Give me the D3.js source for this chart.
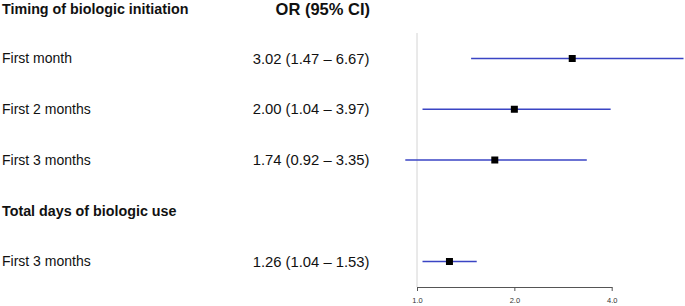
<!DOCTYPE html>
<html>
<head>
<meta charset="utf-8">
<script src="https://cdn.jsdelivr.net/npm/d3@7"></script>
<style>
  body { margin: 0; background: #fff; }
  svg { display: block; font-family: "Liberation Sans", Arial, sans-serif; }
</style>
</head>
<body>
<div id="forest"></div>
<script>
// rows of the table, top to bottom (headers have no estimate)
var rowLabels = ["First month", "First 2 months", "First 3 months",
                 "Total days of biologic use", "First 3 months"];
var isHeader  = [false, false, false, true, false];
var estimates = [3.02, 2.00, 1.74, null, 1.26];
var lower     = [1.47, 1.04, 0.92, null, 1.04];
var upper     = [6.67, 3.97, 3.35, null, 1.53];
var ciLabels  = ["3.02 (1.47 \u2013 6.67)", "2.00 (1.04 \u2013 3.97)", "1.74 (0.92 \u2013 3.35)",
                 "", "1.26 (1.04 \u2013 1.53)"];
var columnTitles = ["Timing of biologic initiation", "OR (95% CI)"];
var tickValues = [1, 2, 4];

var width = 685, height = 306;

var svg = d3.select("#forest")
  .append("svg")
    .attr("width", width)
    .attr("height", height);

// row positions
var y = d3.scaleLinear()
  .domain([0, rowLabels.length - 1])
  .range([58.5, 261.5]);
var titleY = 9;

// odds ratio axis, log scale
var x = d3.scaleLog()
  .base(2)
  .domain([1, 4])
  .range([417, 611.7]);

var axisY = 287;

// reference line at OR = 1
svg.append("line")
  .attr("x1", x(1)).attr("x2", x(1))
  .attr("y1", 33).attr("y2", axisY)
  .attr("stroke", "#d4d4d4")
  .attr("stroke-width", 1);

// axis
var axis = svg.append("g")
  .attr("transform", "translate(0," + axisY + ")")
  .call(d3.axisBottom(x).tickValues(tickValues).tickFormat(d3.format(".1f")).tickSize(4).tickSizeOuter(0));
axis.select(".domain").attr("stroke", "#555");
axis.selectAll(".tick line").attr("stroke", "#555");
axis.selectAll(".tick text")
  .attr("fill", "#333")
  .attr("dy", "1.15em")
  .style("font-size", "7.5px")
  .style("font-family", "Liberation Sans, Arial, sans-serif");

// column titles
svg.append("text")
  .attr("x", 2).attr("y", titleY).attr("dy", "0.35em")
  .style("font-size", "14.3px").style("font-weight", "bold")
  .attr("fill", "#111")
  .text(columnTitles[0]);
svg.append("text")
  .attr("x", 370).attr("y", titleY).attr("dy", "0.35em")
  .attr("text-anchor", "end")
  .style("font-size", "16.5px").style("font-weight", "bold")
  .attr("fill", "#111")
  .text(columnTitles[1]);

// left labels
svg.append("g")
  .selectAll("text")
  .data(rowLabels)
  .enter().append("text")
    .attr("x", 2)
    .attr("y", function(d, i) { return y(i); })
    .attr("dy", "0.35em")
    .style("font-size", function(d, i) { return isHeader[i] ? "14.3px" : "14px"; })
    .style("font-weight", function(d, i) { return isHeader[i] ? "bold" : "normal"; })
    .attr("fill", "#111")
    .text(function(d) { return d; });

// OR (95% CI) column, right aligned
svg.append("g")
  .selectAll("text")
  .data(ciLabels)
  .enter().append("text")
    .attr("x", 369.5)
    .attr("y", function(d, i) { return y(i); })
    .attr("dy", "0.35em")
    .attr("text-anchor", "end")
    .style("font-size", "14.8px")
    .attr("fill", "#111")
    .text(function(d) { return d; });

var idx = d3.range(rowLabels.length).filter(function(i) { return estimates[i] !== null; });

// confidence intervals
svg.append("g")
  .selectAll("line")
  .data(idx)
  .enter().append("line")
    .attr("x1", function(i) { return x(lower[i]); })
    .attr("x2", function(i) { return x(upper[i]); })
    .attr("y1", function(i) { return y(i); })
    .attr("y2", function(i) { return y(i); })
    .attr("stroke", "#3a44c4")
    .attr("stroke-width", 1.3);

// point estimates
var sq = 7;
svg.append("g")
  .selectAll("rect")
  .data(idx)
  .enter().append("rect")
    .attr("x", function(i) { return x(estimates[i]) - sq / 2; })
    .attr("y", function(i) { return y(i) - sq / 2; })
    .attr("width", sq)
    .attr("height", sq)
    .attr("fill", "#000");
</script>
</body>
</html>
